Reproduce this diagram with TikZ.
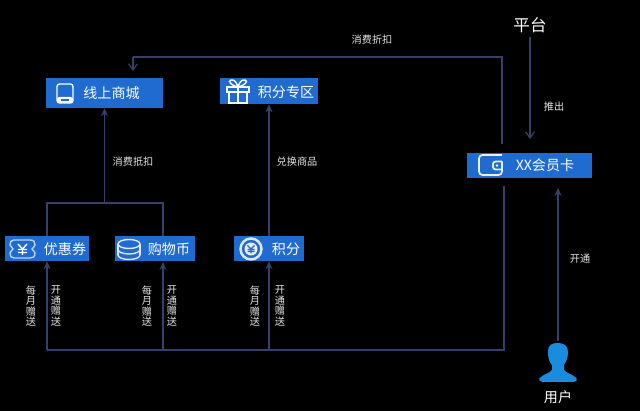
\documentclass[tikz,border=0pt]{standalone}
\usepackage{fontspec}
\usetikzlibrary{arrows.meta}
\setmainfont{Noto Sans CJK SC}
\definecolor{boxblue}{HTML}{1F6BD0}
\definecolor{linegrey}{HTML}{35416A}
\definecolor{userblue}{HTML}{1A8CE0}
\definecolor{labelgrey}{HTML}{E6E6E6}
\begin{document}
\begin{tikzpicture}[x=0.02cm,y=-0.02cm]
\tikzstyle{arrow}=[-{Stealth[length=4.5pt,width=4pt]}, linegrey, line width=0.7pt]
\tikzstyle{openarrow}=[-{Straight Barb[length=3.5pt,width=5pt]}, linegrey, line width=0.7pt]
\tikzstyle{line}=[linegrey, line width=0.7pt]
\tikzstyle{box}=[fill=boxblue, inner sep=0pt]
\tikzstyle{boxtext}=[white, font=\fontsize{8}{9}\selectfont, inner sep=0pt]
\tikzstyle{label}=[labelgrey, font=\fontsize{5.8}{6}\selectfont, inner sep=0pt, align=center]
\tikzstyle{big}=[white, font=\fontsize{9.4}{10}\selectfont, inner sep=0pt]
\tikzstyle{icon}=[white, line width=0.8pt]
\useasboundingbox (0,0) rectangle (640,411);
\fill[black] (0,0) rectangle (640,411);

% boxes
\draw node[box, minimum width=2.34cm, minimum height=0.6cm] (mall) at (104.5,93) {};
\draw node[box, minimum width=1.98cm, minimum height=0.52cm] (gift) at (269,91) {};
\draw node[box, minimum width=1.68cm, minimum height=0.5cm] (coupon) at (47,248.5) {};
\draw node[box, minimum width=1.6cm, minimum height=0.5cm] (coin) at (155,248.5) {};
\draw node[box, minimum width=1.4cm, minimum height=0.5cm] (points) at (269,248.5) {};
\draw node[box, minimum width=2.5cm, minimum height=0.5cm] (card) at (529.5,165.5) {};

% box texts
\draw node[boxtext] (malltext) at (111.5,93) {线上商城};
\draw node[boxtext] (gifttext) at (286,92) {积分专区};
\draw node[boxtext] (coupontext) at (65,249) {优惠券};
\draw node[boxtext] (cointext) at (169,249) {购物币};
\draw node[boxtext] (pointstext) at (286,249) {积分};
\draw node[boxtext] (cardtext) at (545,165) {XX会员卡};

% outer labels
\draw node[big] (platform) at (530,25) {平台};
\draw node[boxtext] (user) at (558,397) {用户};
\draw node[label] (discount) at (372,40) {消费折扣};
\draw node[label] (deduct) at (133,162) {消费抵扣};
\draw node[label] (exchange) at (297,162) {兑换商品};
\draw node[label] (launch) at (554,107) {推出};
\draw node[label] (open) at (580,259) {开通};
\draw node[label] (monthA) at (31,306) {每\\月\\赠\\送};
\draw node[label] (giveA) at (56,306) {开\\通\\赠\\送};
\draw node[label] (monthB) at (147,306) {每\\月\\赠\\送};
\draw node[label] (giveB) at (172,306) {开\\通\\赠\\送};
\draw node[label] (monthC) at (255,306) {每\\月\\赠\\送};
\draw node[label] (giveC) at (280,306) {开\\通\\赠\\送};

% points on the lines
\coordinate (join) at (104.5,203);
\coordinate (joinA) at (47,203);
\coordinate (joinB) at (163,203);
\coordinate (coinTop) at (163,236);
\coordinate (coinBot) at (163,262);
\coordinate (busA) at (47,350);
\coordinate (busB) at (163,350);
\coordinate (busC) at (269,350);
\coordinate (busEnd) at (504,350);
\coordinate (cardBot) at (504,186);
\coordinate (cardTop) at (502,144);
\coordinate (corner) at (502,57);
\coordinate (cornerB) at (133,57);
\coordinate (mallIn) at (133,71);
\coordinate (platA) at (530,37);
\coordinate (platB) at (530,139);
\coordinate (userA) at (558,341);
\coordinate (userB) at (558,188);

% connectors
\draw[line] (coupon) -- (joinA) -- (joinB) -- (coinTop);
\draw[arrow] (join) -- (mall);
\draw[arrow] (points) -- (gift);
\draw[line] (cardBot) -- (busEnd) -- (busA);
\draw[arrow] (busA) -- (coupon);
\draw[arrow] (busB) -- (coinBot);
\draw[arrow] (busC) -- (points);
\draw[line] (cardTop) -- (corner) -- (cornerB);
\draw[openarrow] (cornerB) -- (mallIn);
\draw[openarrow] (platA) -- (platB);
\draw[arrow] (userA) -- (userB);

% icons
\draw[icon, rounded corners=1.5pt] (57,84) rectangle (73,103);
\fill[white, rounded corners=1pt] (57,97) rectangle (73,103);
\fill[boxblue] (61,99.5) rectangle (69,101);

\draw[icon] (227,87) rectangle (249,92);
\draw[icon] (229,92) rectangle (247,103);
\draw[icon] (238,87) -- (238,103);
\draw[icon] (238,87) .. controls (232,86) and (227,81) .. (231,80) .. controls (235,79) and (237,84) .. (238,87);
\draw[icon] (238,87) .. controls (244,86) and (249,81) .. (245,80) .. controls (241,79) and (239,84) .. (238,87);

\draw[icon, white!70!boxblue] (14,240) -- (30,240) .. controls (34,240) and (35,242) .. (35,245) .. controls (34,247) and (33,248) .. (32,249) .. controls (33,250) and (34,251) .. (35,253) .. controls (35,257) and (33,258) .. (30,258) -- (14,258) .. controls (11,258) and (10,256) .. (10,253) .. controls (11,251) and (12,250) .. (13,249) .. controls (12,248) and (11,246) .. (10,245) .. controls (10,242) and (11,240) .. (14,240) -- cycle;
\draw[icon] (18,244) -- (22.5,249) -- (27,244) (22.5,249) -- (22.5,255) (18,249.5) -- (27,249.5) (18,252.5) -- (27,252.5);

\draw[icon, white!85!boxblue] (129,244) ellipse (11 and 4.5);
\draw[icon, white!85!boxblue] (118,244) -- (118,255) (140,244) -- (140,255);
\draw[icon, white!85!boxblue] (118,249.5) arc[start angle=180, end angle=360, x radius=11, y radius=-4.5];
\draw[icon, white!85!boxblue] (118,255) arc[start angle=180, end angle=360, x radius=11, y radius=-4.5];

\draw[white!85!boxblue, line width=1.4pt] (251,249) circle (10.5);
\fill[white!90!boxblue] (251,249) circle (6.5);
\draw[boxblue, line width=0.7pt] (247.5,245.5) -- (251,249) -- (254.5,245.5) (251,249) -- (251,253.5) (247.5,249.5) -- (254.5,249.5) (247.5,251.5) -- (254.5,251.5);

\draw[icon, white!90!boxblue, line width=1pt, rounded corners=2pt] (502,155) -- (479,155) -- (479,175) -- (502,175) -- (502,161.5);
\draw[icon, white!90!boxblue, line width=1pt, rounded corners=1.5pt] (502,161.5) -- (493,161.5) -- (493,169.5) -- (502,169.5);
\fill[white] (497,165.5) circle (1.3);

\fill[userblue] (545,382) .. controls (538,382) and (538,379) .. (541,377)
  .. controls (544,374) and (550,373) .. (552,370) -- (552,365)
  .. controls (549,362) and (548,358) .. (548,351)
  .. controls (548,345) and (552,343) .. (558,343)
  .. controls (564,343) and (568,346) .. (568,352)
  .. controls (568,358) and (566,362) .. (564,365) -- (564,370)
  .. controls (566,373) and (572,374) .. (575,377)
  .. controls (578,379) and (578,382) .. (571,382) -- cycle;
\end{tikzpicture}
\end{document}
